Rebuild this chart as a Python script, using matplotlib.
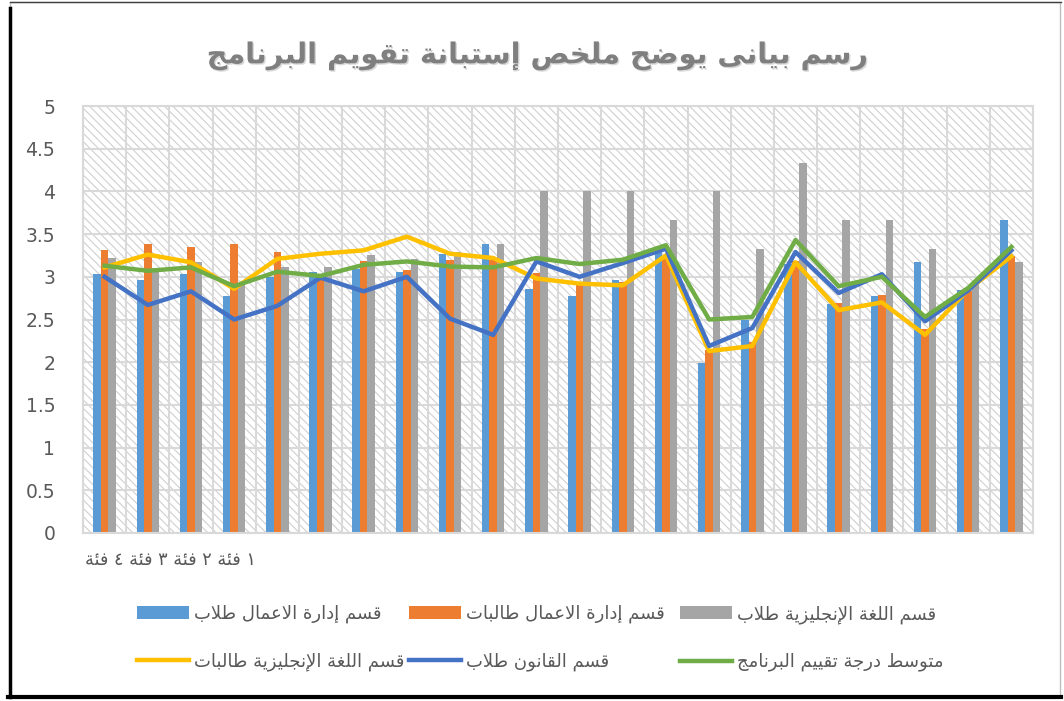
import numpy as np
import matplotlib
matplotlib.use("Agg")
import matplotlib.pyplot as plt
from matplotlib.patches import Rectangle, Patch
from matplotlib.lines import Line2D
import matplotlib.patheffects as pe

# ---------------- data ----------------
title_text = "رسم بيانى يوضح ملخص إستبانة تقويم البرنامج"
category_labels = ["فئة ١", "فئة ٢", "فئة ٣", "فئة ٤"]

series_names = [
    "قسم إدارة الاعمال طلاب",
    "قسم إدارة الاعمال طالبات",
    "قسم اللغة الإنجليزية طلاب",
    "قسم اللغة الإنجليزية طالبات",
    "قسم القانون طلاب",
    "متوسط درجة تقييم البرنامج",
]

business_male = [3.03, 2.96, 3.03, 2.78, 3.00, 3.06, 3.09, 3.06, 3.27, 3.38, 2.86,
                 2.78, 2.96, 3.31, 1.99, 2.50, 3.15, 2.68, 2.78, 3.17, 2.85, 3.67]
business_female = [3.31, 3.38, 3.35, 3.38, 3.29, 3.02, 3.18, 3.08, 3.20, 3.20, 3.05,
                   2.94, 2.94, 3.23, 2.14, 2.24, 3.19, 2.69, 2.79, 2.39, 2.83, 3.24]
english_male = [3.22, 3.10, 3.17, 2.93, 3.12, 3.12, 3.26, 3.21, 3.29, 3.38, 4.00,
                4.00, 4.00, 3.66, 4.00, 3.33, 4.33, 3.66, 3.66, 3.33, 2.92, 3.17]
english_female = [3.11, 3.26, 3.17, 2.86, 3.21, 3.27, 3.31, 3.47, 3.27, 3.22, 2.98,
                  2.92, 2.90, 3.25, 2.13, 2.19, 3.17, 2.61, 2.70, 2.32, 2.85, 3.24]
law_male = [3.00, 2.67, 2.83, 2.50, 2.66, 2.99, 2.83, 3.00, 2.51, 2.32, 3.18,
            3.00, 3.16, 3.33, 2.19, 2.40, 3.29, 2.81, 3.03, 2.48, 2.84, 3.31]
program_mean = [3.13, 3.07, 3.11, 2.89, 3.06, 3.01, 3.14, 3.18, 3.12, 3.11, 3.22,
                3.15, 3.20, 3.37, 2.50, 2.53, 3.43, 2.89, 3.00, 2.53, 2.87, 3.35]

y_ticks = [0, 0.5, 1, 1.5, 2, 2.5, 3, 3.5, 4, 4.5, 5]
y_tick_labels = ["0", "0.5", "1", "1.5", "2", "2.5", "3", "3.5", "4", "4.5", "5"]

# ---------------- Arabic shaping helpers (matplotlib has no shaping) ----------------
TWO = {'\u0622': 0xFE81, '\u0623': 0xFE83, '\u0624': 0xFE85, '\u0625': 0xFE87,
       '\u0627': 0xFE8D, '\u0629': 0xFE93, '\u062F': 0xFEA9, '\u0630': 0xFEAB,
       '\u0631': 0xFEAD, '\u0632': 0xFEAF, '\u0648': 0xFEED, '\u0649': 0xFEEF}
FOUR = {'\u0626': 0xFE89, '\u0628': 0xFE8F, '\u062A': 0xFE95, '\u062B': 0xFE99,
        '\u062C': 0xFE9D, '\u062D': 0xFEA1, '\u062E': 0xFEA5, '\u0633': 0xFEB1,
        '\u0634': 0xFEB5, '\u0635': 0xFEB9, '\u0636': 0xFEBD, '\u0637': 0xFEC1,
        '\u0638': 0xFEC5, '\u0639': 0xFEC9, '\u063A': 0xFECD, '\u0641': 0xFED1,
        '\u0642': 0xFED5, '\u0643': 0xFED9, '\u0644': 0xFEDD, '\u0645': 0xFEE1,
        '\u0646': 0xFEE5, '\u0647': 0xFEE9, '\u064A': 0xFEF1}
LAMALEF = {'\u0622': 0xFEF5, '\u0623': 0xFEF7, '\u0625': 0xFEF9, '\u0627': 0xFEFB}


def shape_word(word):
    toks = []
    i = 0
    while i < len(word):
        c = word[i]
        if c == '\u0644' and i + 1 < len(word) and word[i + 1] in LAMALEF:
            toks.append(('LA', word[i + 1]))
            i += 2
        else:
            toks.append(('C', c))
            i += 1

    def joins_fwd(t):
        return t[0] == 'C' and t[1] in FOUR

    def is_letter(t):
        return t[0] == 'LA' or t[1] in FOUR or t[1] in TWO

    out = []
    for k, t in enumerate(toks):
        prev = toks[k - 1] if k > 0 else None
        nxt = toks[k + 1] if k + 1 < len(toks) else None
        jp = prev is not None and joins_fwd(prev) and is_letter(t)
        if t[0] == 'LA':
            out.append(chr(LAMALEF[t[1]] + (1 if jp else 0)))
            continue
        c = t[1]
        if c in FOUR:
            jn = nxt is not None and is_letter(nxt)
            off = 3 if (jp and jn) else 1 if jp else 2 if jn else 0
            out.append(chr(FOUR[c] + off))
        elif c in TWO:
            out.append(chr(TWO[c] + (1 if jp else 0)))
        else:
            out.append(c)
    return ''.join(out)


def rtl(text):
    return ' '.join(shape_word(w)[::-1] for w in text.split(' ')[::-1])


def cat_label(labels):
    parts = []
    for lab in labels[::-1]:
        parts.append(' '.join(shape_word(w)[::-1] for w in lab.split(' ')))
    return ' '.join(parts)


# ---------------- styling ----------------
plt.rcParams['font.family'] = ['DejaVu Sans']
plt.rcParams['hatch.linewidth'] = 0.8
TXT = '#595959'
GRID = '#d9d9d9'
c_blue, c_orange, c_gray = '#5B9BD5', '#ED7D31', '#A5A5A5'
c_yellow, c_dblue, c_green = '#FFC000', '#4472C4', '#70AD47'

fig = plt.figure(figsize=(10.64, 7.01), dpi=100)
fig.patch.set_facecolor('white')

W, H = 1064, 701
ax = fig.add_axes([83 / W, 1 - 533 / H, (1033 - 83) / W, (533 - 106) / H])

n = len(business_male)
x = np.arange(n)
bw = 0.174

# hatched background
ax.add_patch(Rectangle((0, 0), 1, 1, transform=ax.transAxes, facecolor='white',
                       edgecolor='#cfcfcf', hatch='\\\\\\\\', linewidth=0, zorder=0.1))

ax.bar(x - bw, business_male, bw, color=c_blue, zorder=2)
ax.bar(x, business_female, bw, color=c_orange, zorder=2)
ax.bar(x + bw, english_male, bw, color=c_gray, zorder=2)

lw = 3.2
ax.plot(x, english_female, color=c_yellow, lw=lw, zorder=3, solid_joinstyle='round')
ax.plot(x, law_male, color=c_dblue, lw=lw, zorder=3.1, solid_joinstyle='round')
ax.plot(x, program_mean, color=c_green, lw=lw, zorder=3.2, solid_joinstyle='round')

ax.set_xlim(-0.5, n - 0.5)
ax.set_ylim(0, 5)
ax.set_yticks(y_ticks)
ax.set_yticklabels(y_tick_labels, color=TXT, fontsize=13.5)
ax.set_xticks(x)
ax.set_xticklabels([''] * n)
ax.set_xticks(np.arange(n + 1) - 0.5, minor=True)
ax.tick_params(axis='both', which='both', length=0)
ax.tick_params(axis='y', pad=20)
ax.set_axisbelow(True)
ax.grid(axis='y', which='major', color=GRID, lw=1.5)
ax.grid(axis='x', which='minor', color=GRID, lw=1.5)
for s in ax.spines.values():
    s.set_color(GRID)
    s.set_linewidth(1.5)

# category label (single text under the first categories)
ax.text(0.002, -0.063, cat_label(category_labels), transform=ax.transAxes,
        ha='left', va='center', fontsize=12.8, color=TXT)

# title
fig.text(0.505, 1 - 56 / H, rtl(title_text), ha='center', va='center',
         fontsize=20.7, fontweight='bold', color='#7f7f7f',
         path_effects=[pe.withSimplePatchShadow(offset=(1.0, -1.0),
                                                shadow_rgbFace='#c8c8c8', alpha=0.7)])

# legend: three columns built separately to match fixed column positions
col_items = [
    [Patch(facecolor=c_blue, edgecolor='none'), Line2D([], [], color=c_yellow, lw=lw)],
    [Patch(facecolor=c_orange, edgecolor='none'), Line2D([], [], color=c_dblue, lw=lw)],
    [Patch(facecolor=c_gray, edgecolor='none'), Line2D([], [], color=c_green, lw=lw)],
]
col_names = [
    [series_names[0], series_names[3]],
    [series_names[1], series_names[4]],
    [series_names[2], series_names[5]],
]
col_x = [137, 409, 680]
for hs, names, cx in zip(col_items, col_names, col_x):
    fig.legend(hs, [rtl(s) for s in names], loc='upper left',
               bbox_to_anchor=(cx / W, 1 - 605 / H), frameon=False,
               fontsize=13, labelcolor=TXT, handlelength=2.9, handleheight=0.7,
               handletextpad=0.25, borderpad=0, borderaxespad=0, labelspacing=1.62)

# outer chart border with dark shadow edges
fig.add_artist(Rectangle((10 / W, 4 / H), (1060 - 10) / W, (699 - 4) / H,
                         transform=fig.transFigure, fill=False, edgecolor='#bfbfbf', lw=1))
fig.add_artist(Line2D([9.5 / W, 9.5 / W], [4 / H, 1 - 8 / H], transform=fig.transFigure,
                      color='black', lw=2.5))
fig.add_artist(Line2D([8 / W, 1061 / W], [4 / H, 4 / H], transform=fig.transFigure,
                      color='black', lw=3))
fig.add_artist(Line2D([10 / W, 1061 / W], [1 - 1.5 / H, 1 - 1.5 / H], transform=fig.transFigure,
                      color='#404040', lw=1))

fig.savefig('out.png', dpi=100, facecolor='white')
